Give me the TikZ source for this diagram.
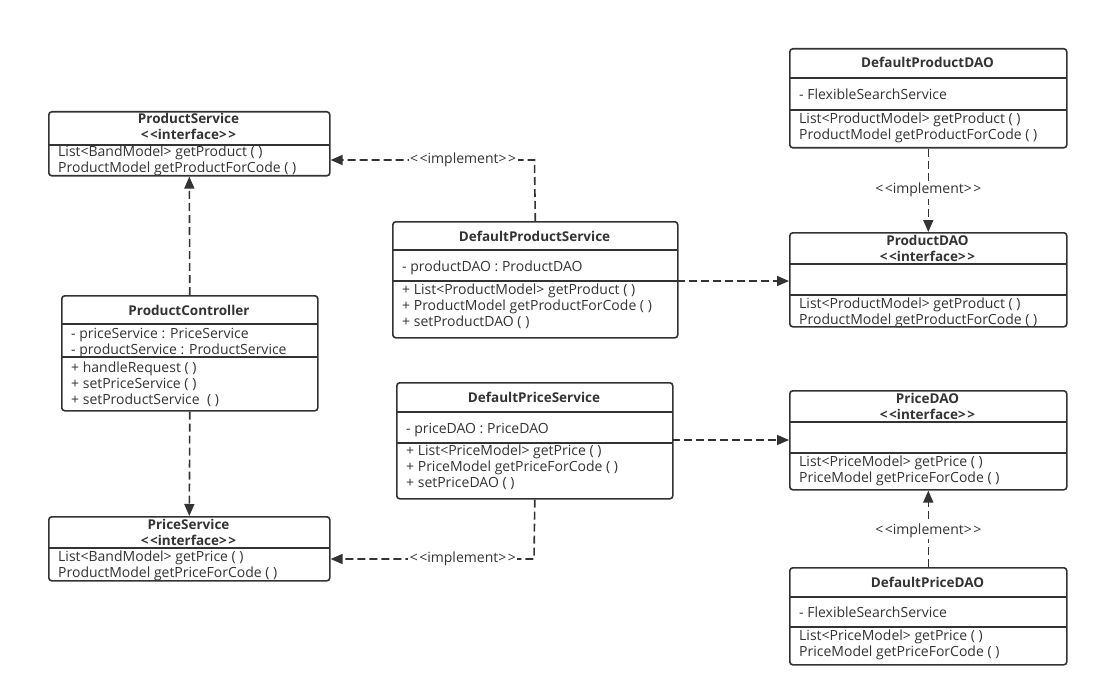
\documentclass[tikz,border=0pt]{standalone}
\usepackage{fontspec}
\setmainfont{Open Sans}
\usetikzlibrary{arrows.meta}
\definecolor{ink}{HTML}{333333}
\newcommand{\lt}{<\kern1.5pt<}
\newcommand{\gt}{>\kern1.5pt>}
\begin{document}
\begin{tikzpicture}[x=1pt,y=-1pt,
  boxst/.style={draw=ink, line width=1.6pt, rounded corners=3pt, fill=white, inner sep=0pt, anchor=north west},
  sepline/.style={draw=ink, line width=1.4pt},
  txt/.style={text=ink, font=\fontsize{14}{16}\selectfont, inner sep=0pt, anchor=base west, yshift=-5.5pt},
  ttl/.style={text=ink, font=\fontsize{13.5}{16}\selectfont\bfseries, inner sep=0pt, anchor=base, yshift=-5pt},
  dep/.style={draw=ink, line width=1.6pt, dash pattern=on 8pt off 4pt, -{Triangle[length=12pt,width=10pt]}},
  lbl/.style={fill=white, text=ink, font=\fontsize{14}{16}\selectfont, inner sep=1.5pt}
]
\useasboundingbox (0,0) rectangle (1098,698);

% ---------- ProductService ----------
\node[boxst, minimum width=281pt, minimum height=64pt] (ps) at (48,111) {};
\draw[sepline] (48,145) -- (329,145);
\node[ttl] (ps-t1) at (188.5,119) {ProductService};
\node[ttl] (ps-t2) at (188.5,135) {\lt interface\gt};
\node[txt] (ps-m1) at (58,151) {List<BandModel> getProduct ( )};
\node[txt] (ps-m2) at (58,167) {ProductModel getProductForCode ( )};

% ---------- ProductController ----------
\node[boxst, minimum width=256pt, minimum height=115pt] (pc) at (61,295) {};
\draw[sepline] (61,324) -- (317,324);
\draw[sepline] (61,357) -- (317,357);
\node[ttl] (pc-t) at (189,310) {ProductController};
\node[txt] (pc-a1) at (71,333) {- priceService : PriceService};
\node[txt] (pc-a2) at (71,349) {- productService : ProductService};
\node[txt] (pc-m1) at (71,367) {+ handleRequest ( )};
\node[txt] (pc-m2) at (71,383) {+ setPriceService ( )};
\node[txt] (pc-m3) at (71,399) {+ setProductService\ \ ( )};

% ---------- PriceService ----------
\node[boxst, minimum width=281pt, minimum height=64pt] (prs) at (48,516) {};
\draw[sepline] (48,548) -- (329,548);
\node[ttl] (prs-t1) at (188.5,524) {PriceService};
\node[ttl] (prs-t2) at (188.5,540) {\lt interface\gt};
\node[txt] (prs-m1) at (58,556) {List<BandModel> getPrice ( )};
\node[txt] (prs-m2) at (58,572) {ProductModel getPriceForCode ( )};

% ---------- DefaultProductService ----------
\node[boxst, minimum width=285pt, minimum height=116pt] (dps) at (392,221) {};
\draw[sepline] (392,250) -- (677,250);
\draw[sepline] (392,281) -- (677,281);
\node[ttl] (dps-t) at (534.5,236) {DefaultProductService};
\node[txt] (dps-a1) at (402,266) {- productDAO : ProductDAO};
\node[txt] (dps-m1) at (402,289) {+ List<ProductModel> getProduct ( )};
\node[txt] (dps-m2) at (402,305) {+ ProductModel getProductForCode ( )};
\node[txt] (dps-m3) at (402,321) {+ setProductDAO ( )};

% ---------- DefaultPriceService ----------
\node[boxst, minimum width=276pt, minimum height=116pt] (dprs) at (396,382) {};
\draw[sepline] (396,412) -- (672,412);
\draw[sepline] (396,443) -- (672,443);
\node[ttl] (dprs-t) at (534,397) {DefaultPriceService};
\node[txt] (dprs-a1) at (406,428) {- priceDAO : PriceDAO};
\node[txt] (dprs-m1) at (406,450) {+ List<PriceModel> getPrice ( )};
\node[txt] (dprs-m2) at (406,466) {+ PriceModel getPriceForCode ( )};
\node[txt] (dprs-m3) at (406,482) {+ setPriceDAO ( )};

% ---------- DefaultProductDAO ----------
\node[boxst, minimum width=277pt, minimum height=99pt] (dpd) at (789,48) {};
\draw[sepline] (789,78) -- (1066,78);
\draw[sepline] (789,110) -- (1066,110);
\node[ttl] (dpd-t) at (927.5,63) {DefaultProductDAO};
\node[txt] (dpd-a1) at (799,94) {- FlexibleSearchService};
\node[txt] (dpd-m1) at (799,118) {List<ProductModel> getProduct ( )};
\node[txt] (dpd-m2) at (799,134) {ProductModel getProductForCode ( )};

% ---------- ProductDAO ----------
\node[boxst, minimum width=277pt, minimum height=94pt] (pd) at (789,232) {};
\draw[sepline] (789,264) -- (1066,264);
\draw[sepline] (789,295) -- (1066,295);
\node[ttl] (pd-t1) at (927.5,240) {ProductDAO};
\node[ttl] (pd-t2) at (927.5,256) {\lt interface\gt};
\node[txt] (pd-m1) at (799,303) {List<ProductModel> getProduct ( )};
\node[txt] (pd-m2) at (799,319) {ProductModel getProductForCode ( )};

% ---------- PriceDAO ----------
\node[boxst, minimum width=277pt, minimum height=99pt] (prd) at (789,390) {};
\draw[sepline] (789,422) -- (1066,422);
\draw[sepline] (789,453) -- (1066,453);
\node[ttl] (prd-t1) at (927.5,398) {PriceDAO};
\node[ttl] (prd-t2) at (927.5,414) {\lt interface\gt};
\node[txt] (prd-m1) at (799,461) {List<PriceModel> getPrice ( )};
\node[txt] (prd-m2) at (799,477) {PriceModel getPriceForCode ( )};

% ---------- DefaultPriceDAO ----------
\node[boxst, minimum width=277pt, minimum height=97pt] (dprd) at (789,567) {};
\draw[sepline] (789,597) -- (1066,597);
\draw[sepline] (789,627) -- (1066,627);
\node[ttl] (dprd-t) at (927.5,582) {DefaultPriceDAO};
\node[txt] (dprd-a1) at (799,612) {- FlexibleSearchService};
\node[txt] (dprd-m1) at (799,635) {List<PriceModel> getPrice ( )};
\node[txt] (dprd-m2) at (799,651) {PriceModel getPriceForCode ( )};

% ---------- connectors ----------
\draw[dep] (pc.north) -- (ps.south);
\draw[dep] (pc.south) -- (prs.north);

\coordinate (c1) at (534.5,160);
\draw[dep] (dps.north) -- (c1) -- node[lbl, pos=0.35] (l1) {\lt implement\gt} (ps.east |- c1);

\coordinate (c2) at (534,559);
\draw[dep] (dprs.south) -- (c2) -- node[lbl, pos=0.35] (l2) {\lt implement\gt} (prs.east |- c2);

\coordinate (c3) at (677,281);
\draw[dep] (c3) -- (pd.west |- c3);

\coordinate (c4) at (672,440);
\draw[dep] (c4) -- (prd.west |- c4);

\draw[dep] (dpd.south) -- node[lbl, pos=0.5] (l3) {\lt implement\gt} (pd.north);
\draw[dep] (dprd.north) -- node[lbl, pos=0.475] (l4) {\lt implement\gt} (prd.south);
\end{tikzpicture}
\end{document}
